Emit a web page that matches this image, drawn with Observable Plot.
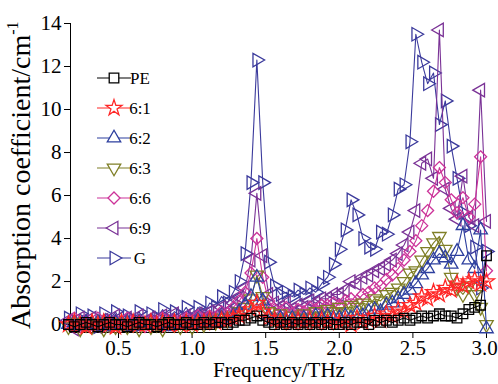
<!DOCTYPE html>
<html>
<head>
<meta charset="utf-8">
<script src="https://cdn.jsdelivr.net/npm/d3@7"></script>
<script src="https://cdn.jsdelivr.net/npm/@observablehq/plot@0.6"></script>
<style>
  html, body { margin: 0; padding: 0; background: #ffffff; }
  #chart { width: 498px; height: 384px; }
  #chart svg, #chart svg text { font-family: "Liberation Serif", "Times New Roman", serif !important; }
</style>
</head>
<body>
<div id="chart"></div>
<script>
// Frequency grid (THz)
const freq = [
  0.16, 0.20, 0.24, 0.28, 0.32, 0.36, 0.40, 0.44, 0.48, 0.52,
  0.56, 0.60, 0.64, 0.68, 0.72, 0.76, 0.80, 0.84, 0.88, 0.92,
  0.96, 1.00, 1.04, 1.08, 1.12, 1.16, 1.20, 1.24, 1.28, 1.32,
  1.36, 1.40, 1.44, 1.48, 1.52, 1.56, 1.60, 1.64, 1.68, 1.72,
  1.76, 1.80, 1.84, 1.88, 1.92, 1.96, 2.00, 2.04, 2.08, 2.12,
  2.16, 2.20, 2.24, 2.28, 2.32, 2.36, 2.40, 2.44, 2.48, 2.52,
  2.56, 2.60, 2.64, 2.68, 2.72, 2.76, 2.80, 2.84, 2.88, 2.92,
  2.96, 3.00
];

// Absorption coefficient (cm^-1) per sample
const PE = [
  0.0, -0.1, 0.0, 0.1, 0.0, -0.1, 0.0, 0.1, 0.0, 0.0,
  -0.1, 0.0, 0.1, 0.0, 0.0, -0.1, 0.0, 0.1, 0.0, 0.0,
  0.1, 0.0, 0.0, 0.1, 0.0, 0.1, 0.1, 0.0, 0.1, 0.2,
  0.2, 0.3, 0.4, 0.2, 0.1, 0.0, 0.1, 0.0, 0.1, 0.0,
  0.1, 0.0, 0.1, 0.0, 0.1, 0.0, 0.0, 0.1, 0.0, 0.1,
  0.1, 0.0, 0.2, 0.1, 0.2, 0.1, 0.2, 0.3, 0.2, 0.3,
  0.4, 0.3, 0.4, 0.5, 0.4, 0.4, 0.3, 0.5, 0.7, 0.8,
  0.9, 3.2
];
const s61 = [
  0.0, 0.1, 0.0, -0.1, 0.1, 0.0, 0.1, 0.0, -0.1, 0.1,
  0.0, 0.1, 0.0, 0.0, 0.1, 0.0, 0.1, 0.0, 0.1, 0.0,
  0.1, 0.0, 0.1, 0.1, 0.2, 0.1, 0.2, 0.2, 0.3, 0.4,
  0.5, 0.7, 1.0, 0.6, 0.3, 0.2, 0.1, 0.2, 0.1, 0.2,
  0.1, 0.2, 0.1, 0.2, 0.1, 0.2, 0.1, 0.2, 0.0, 0.3,
  0.1, 0.2, 0.4, 0.2, 0.5, 0.4, 0.7, 0.6, 0.9, 1.0,
  1.3, 1.2, 1.5, 1.4, 1.7, 1.6, 1.9, 1.8, 2.0, 2.1,
  1.9, 2.0
];
const s62 = [
  0.0, 0.1, -0.1, 0.1, 0.0, 0.1, -0.1, 0.0, 0.1, 0.0,
  0.1, -0.1, 0.1, 0.0, 0.1, 0.0, 0.1, -0.1, 0.1, 0.0,
  0.1, 0.0, 0.2, 0.1, 0.2, 0.1, 0.3, 0.2, 0.4, 0.6,
  0.9, 1.3, 2.2, 1.1, 0.4, 0.2, 0.3, 0.1, 0.3, 0.2,
  0.3, 0.2, 0.4, 0.3, 0.4, 0.3, 0.3, 0.4, 0.3, 0.5,
  0.4, 0.6, 0.7, 0.6, 0.9, 1.0, 1.2, 1.4, 1.6, 1.9,
  2.3, 2.6, 3.0, 3.3, 3.1, 2.8, 3.4, 4.6, 3.0, 2.6,
  4.4, -0.2
];
const s63 = [
  -0.1, 0.1, -0.2, 0.0, -0.1, 0.1, -0.2, 0.0, -0.1, 0.1,
  -0.1, 0.0, -0.2, 0.1, -0.1, 0.0, -0.2, 0.1, 0.0, -0.1,
  0.1, -0.1, 0.1, 0.0, 0.2, 0.1, 0.3, 0.2, 0.4, 0.6,
  0.8, 1.2, 2.3, 1.3, 0.6, 0.3, 0.5, 0.2, 0.4, 0.3,
  0.5, 0.3, 0.6, 0.4, 0.7, 0.6, 0.8, 0.6, 0.9, 0.8,
  1.0, 0.9, 1.2, 1.1, 1.4, 1.5, 1.7, 2.0, 2.4, 2.5,
  3.0, 3.4, 3.8, 4.1, 3.5, 2.2, 1.7, 1.4, 1.8, 1.4,
  0.8, 0.0
];
const s66 = [
  0.1, 0.3, -0.1, 0.2, 0.0, 0.3, 0.1, -0.1, 0.2, 0.0,
  0.3, 0.1, 0.2, -0.1, 0.2, 0.1, 0.3, 0.0, 0.2, 0.1,
  0.3, 0.1, 0.4, 0.2, 0.4, 0.3, 0.6, 0.5, 0.8, 1.1,
  1.5, 2.4, 4.0, 2.2, 1.1, 0.7, 0.6, 0.8, 0.5, 0.7,
  0.6, 0.8, 0.7, 0.9, 0.9, 1.0, 0.9, 1.1, 1.2, 1.1,
  1.4, 1.5, 1.7, 1.8, 2.1, 2.3, 2.6, 3.0, 3.4, 3.9,
  4.6, 5.3, 6.2, 7.3, 6.6, 5.8, 5.2, 5.9, 5.0, 5.6,
  7.8, 2.5
];
const s69 = [
  0.2, -0.2, 0.3, 0.0, 0.3, -0.1, 0.2, 0.0, 0.4, 0.1,
  0.3, 0.0, 0.4, 0.1, 0.3, 0.0, 0.4, 0.2, 0.5, 0.1,
  0.4, 0.2, 0.5, 0.3, 0.6, 0.4, 0.8, 0.6, 1.0, 1.3,
  1.7, 3.0, 6.1, 3.2, 1.4, 1.0, 0.8, 1.0, 0.7, 0.9,
  0.8, 1.1, 1.0, 1.2, 1.2, 1.4, 1.4, 1.6, 2.0, 1.9,
  2.2, 2.3, 2.5, 2.6, 2.8, 3.0, 3.3, 3.7, 4.3, 5.3,
  7.5, 7.7, 6.8, 13.7, 6.3, 5.4, 4.9, 6.9, 5.0, 4.6,
  10.9, 4.8
];
const sG = [
  0.3, 0.0, 0.5, 0.1, 0.4, -0.1, 0.5, 0.2, 0.6, 0.0,
  0.4, 0.2, 0.6, 0.1, 0.5, 0.3, 0.7, 0.2, 0.6, 0.4,
  0.8, 0.3, 0.8, 0.5, 1.0, 0.8, 1.3, 1.0, 1.5, 2.0,
  3.3, 6.6, 12.3, 6.6, 2.9, 1.8, 1.4, 1.5, 1.3, 1.6,
  1.4, 1.7, 1.5, 1.9, 2.2, 2.8, 3.5, 4.4, 5.8, 5.1,
  4.0, 3.6, 3.5, 4.3, 4.2, 5.1, 6.3, 6.5, 8.5, 13.5,
  12.2, 11.2, 11.7, 9.3, 10.4, 8.3, 6.8, 5.2, 4.6, 3.6,
  1.7, 3.4
];

const seriesNames = ["PE", "6:1", "6:2", "6:3", "6:6", "6:9", "G"];
const seriesValues = [PE, s61, s62, s63, s66, s69, sG];
const xTicks = [0.5, 1.0, 1.5, 2.0, 2.5, 3.0];
const yTicks = [0, 2, 4, 6, 8, 10, 12, 14];

// styling
const FONT = "'Liberation Serif', 'Times New Roman', serif";
const colors = ["#000000", "#ff2626", "#2d3f9e", "#7f7f26", "#cc3399", "#7a3296", "#3b3a9c"];
function tri(angleDeg) {
  return {
    draw(ctx, size) {
      const R = 2 * Math.sqrt(size / (Math.sqrt(3) * 3));
      const a0 = (angleDeg - 90) * Math.PI / 180;
      for (let j = 0; j < 3; j++) {
        const a = a0 + j * 2 * Math.PI / 3;
        const px = R * Math.cos(a), py = R * Math.sin(a);
        if (j === 0) ctx.moveTo(px, py); else ctx.lineTo(px, py);
      }
      ctx.closePath();
    }
  };
}
const symbols = [d3.symbolSquare, d3.symbolStar, tri(0), tri(180), d3.symbolDiamond2, tri(-90), tri(90)];
const radii = [5.4, 5.0, 5.0, 5.0, 5.4, 5.0, 5.0];

const rows = seriesValues.flatMap((vals, k) => vals.map((v, i) => ({f: freq[i], v, k})));

const marks = [];
for (let k = seriesNames.length - 1; k >= 0; k--) {
  const d = rows.filter(r => r.k === k);
  marks.push(Plot.line(d, {x: "f", y: "v", stroke: colors[k], strokeWidth: 1.1}));
  marks.push(Plot.dot(d, {x: "f", y: "v", stroke: colors[k], fill: "none", symbol: symbols[k], r: radii[k], strokeWidth: 1.3}));
}

const W = 498, H = 384;
const chart = Plot.plot({
  width: W,
  height: H,
  marginLeft: 70,
  marginRight: 12,
  marginTop: 23,
  marginBottom: 52,
  style: {fontFamily: FONT, fontSize: "21px", background: "#ffffff", color: "#000000", overflow: "visible"},
  x: {domain: [0.174, 3.0], ticks: xTicks, tickFormat: d3.format(".1f"), line: true, label: null, tickSize: 6, tickPadding: 2},
  y: {domain: [-0.37, 14], ticks: yTicks, tickFormat: d => String(d), line: true, label: null, tickSize: 6, tickPadding: 3},
  marks
});

const svg = d3.select(chart.tagName.toLowerCase() === "svg" ? chart : chart.querySelector("svg"));

// keep the last x tick label inside the picture
svg.selectAll("text").filter(function() { return this.textContent === "3.0"; }).attr("dx", -2);

// axis titles
svg.append("text")
  .attr("x", 279).attr("y", 377)
  .attr("text-anchor", "middle")
  .attr("font-size", 21)
  .attr("fill", "#000")
  .text("Frequency/THz");

const yt = svg.append("text")
  .attr("transform", "translate(30,329) rotate(-90)")
  .attr("text-anchor", "start")
  .attr("font-size", 28)
  .attr("fill", "#000");
yt.append("tspan").text("Absorption coefficient/cm");
yt.append("tspan").attr("font-size", 16).attr("dy", -12).text("-1");

// legend
const lg = svg.append("g");
seriesNames.forEach((name, k) => {
  const cy = 78 + 30 * k;
  lg.append("line").attr("x1", 97).attr("x2", 131).attr("y1", cy).attr("y2", cy)
    .attr("stroke", colors[k]).attr("stroke-width", 1.2);
  lg.append("path")
    .attr("d", d3.symbol(symbols[k], Math.PI * radii[k] * radii[k])())
    .attr("transform", `translate(114,${cy})`)
    .attr("fill", "#ffffff").attr("stroke", colors[k]).attr("stroke-width", 1.3);
  lg.append("text").attr("x", 140).attr("y", cy).attr("dy", "0.35em")
    .attr("font-size", 17).attr("fill", "#000").text(name);
});

svg.selectAll("text").attr("font-family", FONT).style("font-family", FONT);

document.getElementById("chart").appendChild(chart);
</script>
</body>
</html>
